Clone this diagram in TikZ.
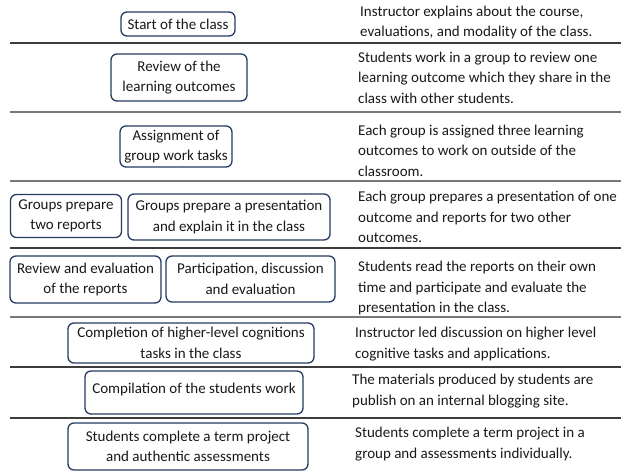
\documentclass[tikz,border=0pt]{standalone}
\usepackage{fontspec}
\setmainfont{Carlito}
\definecolor{boxcol}{RGB}{38,58,98}
\definecolor{ruledark}{RGB}{60,60,60}
\definecolor{rulegray}{RGB}{120,120,120}
\begin{document}
\begin{tikzpicture}[x=1pt,y=-1pt,
  every node/.style={font=\fontsize{15}{20.6}\selectfont, inner sep=0pt, text=black!90},
  stagebox/.style={draw=boxcol, line width=1.3pt, rounded corners=6pt, fill=white, align=center},
  desc/.style={anchor=west, align=left},
  rule/.style={line width=1.3pt, draw=ruledark},
  lightrule/.style={line width=1.3pt, draw=rulegray}]
\useasboundingbox (0,0) rectangle (621,471);
% separators
\coordinate (l1a) at (10,43);  \coordinate (l1b) at (621,43);
\coordinate (l2a) at (10,112); \coordinate (l2b) at (621,112);
\coordinate (l3a) at (10,181); \coordinate (l3b) at (621,181);
\coordinate (l4a) at (10,248); \coordinate (l4b) at (621,248);
\coordinate (l5a) at (10,317); \coordinate (l5b) at (621,317);
\coordinate (l6a) at (10,367); \coordinate (l6b) at (621,367);
\coordinate (l7a) at (10,418); \coordinate (l7b) at (621,418);
\draw[rule] (l1a) -- (l1b);
\draw[lightrule] (l2a) -- (l2b);
\draw[lightrule] (l3a) -- (l3b);
\draw[rule] (l4a) -- (l4b);
\draw[lightrule] (l5a) -- (l5b);
\draw[rule] (l6a) -- (l6b);
\draw[rule] (l7a) -- (l7b);
% stage boxes
\node[stagebox, minimum width=114pt, minimum height=24pt] (s1) at (178,24) {Start of the class};
\node[stagebox, minimum width=136pt, minimum height=47pt] (s2) at (179,77.5) {Review of the\\learning outcomes};
\node[stagebox, minimum width=112pt, minimum height=41pt] (s3) at (176,146.5) {Assignment of\\group work tasks};
\node[stagebox, minimum width=111pt, minimum height=43pt] (s4a) at (66,216) {Groups prepare\\two reports};
\node[stagebox, minimum width=202pt, minimum height=46pt] (s4b) at (229,217) {Groups prepare a presentation\\and explain it in the class};
\node[stagebox, minimum width=151pt, minimum height=47pt] (s5a) at (85.5,279.5) {Review and evaluation\\of the reports};
\node[stagebox, minimum width=169pt, minimum height=46pt] (s5b) at (250.5,279) {Participation, discussion\\and evaluation};
\node[stagebox, minimum width=246pt, minimum height=40pt] (s6) at (191,343) {Completion of higher-level cognitions\\tasks in the class};
\node[stagebox, minimum width=218pt, minimum height=43pt] (s7) at (194,392.5) {\raisebox{8pt}{Compilation of the students work}};
\node[stagebox, minimum width=240pt, minimum height=47pt] (s8) at (188,446.5) {Students complete a term project\\and authentic assessments};
% descriptions
\node[desc] (d1) at (360,22.5) {Instructor explains about the course,\\evaluations, and modality of the class.};
\node[desc] (d2) at (358,77.5) {Students work in a group to review one\\learning outcome which they share in the\\class with other students.};
\node[desc] (d3) at (358,150.5) {Each group is assigned three learning\\outcomes to work on outside of the\\classroom.};
\node[desc] (d4) at (358,217) {Each group prepares a presentation of one\\outcome and reports for two other\\outcomes.};
\node[desc] (d5) at (358,288) {Students read the reports on their own\\time and participate and evaluate the\\presentation in the class.};
\node[desc] (d6) at (355,344) {Instructor led discussion on higher level\\cognitive tasks and applications.};
\node[desc] (d7) at (352,391) {The materials produced by students are\\publish on an internal blogging site.};
\node[desc] (d8) at (355,444) {Students complete a term project in a\\group and assessments individually.};
\end{tikzpicture}
\end{document}
